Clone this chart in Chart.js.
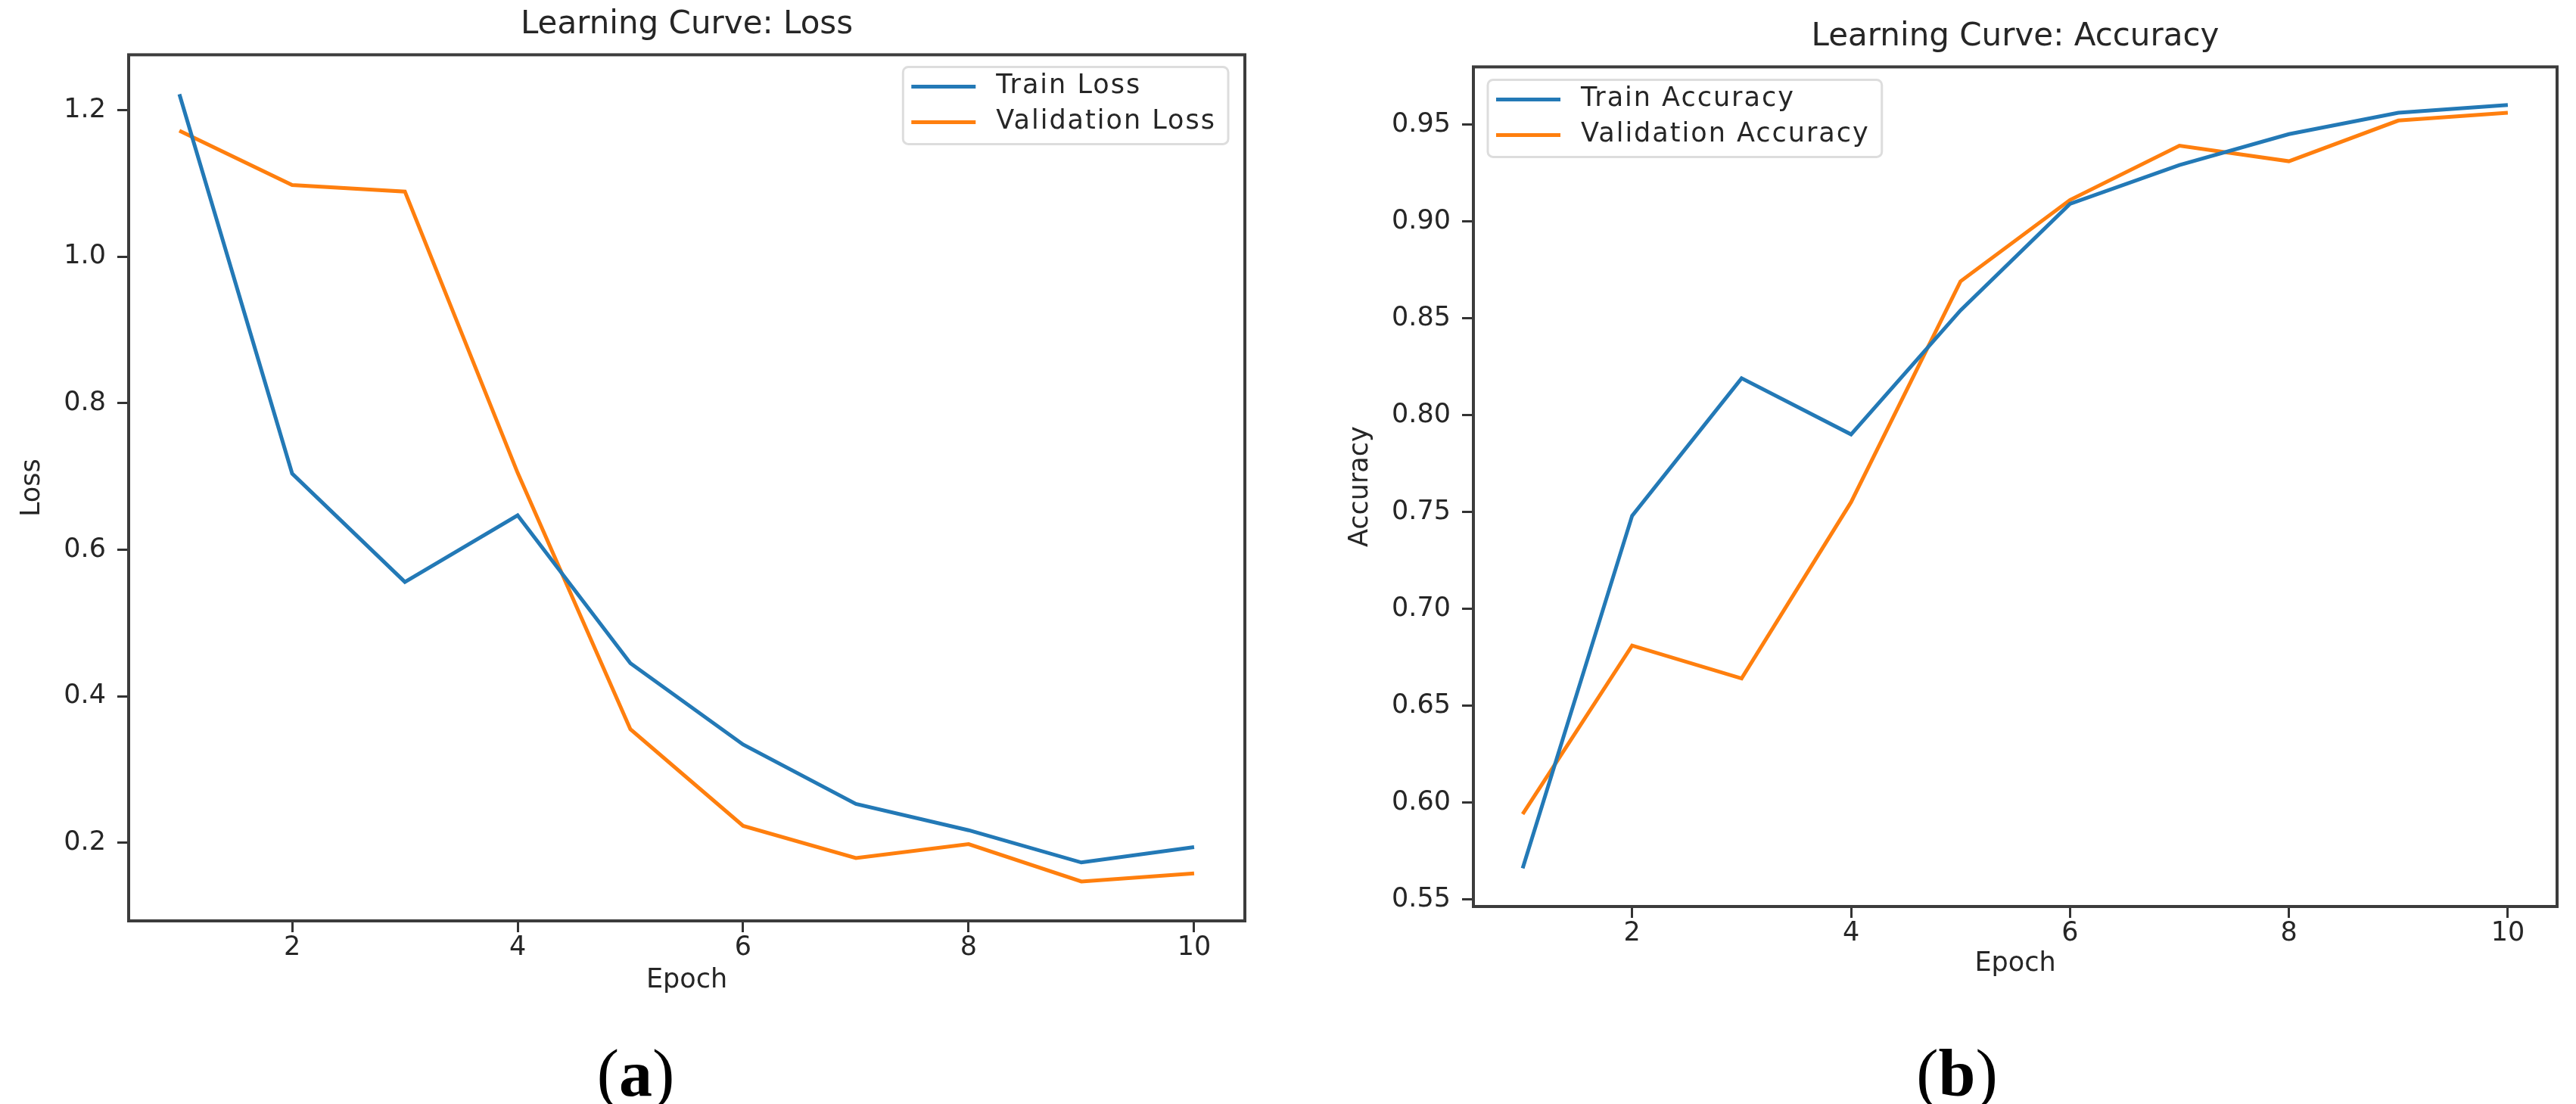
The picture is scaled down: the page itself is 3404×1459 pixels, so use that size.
<!DOCTYPE html>
<html><head><meta charset="utf-8">
<script src="https://cdn.jsdelivr.net/npm/chart.js@4.4.0/dist/chart.umd.min.js"></script>
<style>
html,body{margin:0;padding:0;background:#fff;width:3404px;height:1459px;overflow:hidden}
.wrap{position:absolute;top:0;width:1702px;height:1459px}
.cap{position:absolute;top:1375px;font-family:"Liberation Serif","DejaVu Serif",serif;font-size:88px;line-height:88px;color:#000;transform:translateX(-50%);white-space:nowrap}
</style></head><body>
<div class="wrap" style="left:0"><canvas id="c1" width="1702" height="1459"></canvas></div>
<div class="wrap" style="left:1702px"><canvas id="c2" width="1702" height="1459"></canvas></div>
<div class="cap" style="left:840px">(<b>a</b>)</div>
<div class="cap" style="left:2586px">(<b>b</b>)</div>
<script>
// ---- data ----
const epochs = [1, 2, 3, 4, 5, 6, 7, 8, 9, 10];
const trainLoss = [1.222, 0.704, 0.556, 0.647, 0.445, 0.334, 0.253, 0.217, 0.173, 0.194];
const valLoss   = [1.172, 1.098, 1.089, 0.705, 0.355, 0.223, 0.179, 0.198, 0.147, 0.158];
const trainAcc  = [0.566, 0.748, 0.819, 0.790, 0.854, 0.909, 0.929, 0.945, 0.956, 0.960];
const valAcc    = [0.594, 0.681, 0.664, 0.755, 0.869, 0.911, 0.939, 0.931, 0.952, 0.956];
const epochTicks = [2, 4, 6, 8, 10];
const lossTicks = [0.2, 0.4, 0.6, 0.8, 1.0, 1.2];
const accTicks = [0.55, 0.60, 0.65, 0.70, 0.75, 0.80, 0.85, 0.90, 0.95];
const lossLabels = ['Train Loss', 'Validation Loss'];
const accLabels = ['Train Accuracy', 'Validation Accuracy'];
const titles = ['Learning Curve: Loss', 'Learning Curve: Accuracy'];
const yTitles = ['Loss', 'Accuracy'];
const xTitle = 'Epoch';

const BLUE = '#2379b6', ORANGE = '#ff7f0e', TXT = '#262626';
const FONT = '"DejaVu Sans", sans-serif';

function autoRange(arrs){
  const all = [].concat(...arrs);
  const mn = Math.min(...all), mx = Math.max(...all), m = (mx - mn) * 0.05;
  return [mn - m, mx + m];
}

const framePlugin = {
  id: 'frame',
  afterDraw(chart){
    const a = chart.chartArea, ctx = chart.ctx;
    ctx.save();
    ctx.strokeStyle = '#3c3c3c'; ctx.lineWidth = 4;
    ctx.strokeRect(a.left, a.top, a.right - a.left, a.bottom - a.top);
    ctx.restore();
  }
};
const legendPlugin = {
  id: 'boxLegend',
  afterDraw(chart, args, o){
    const ctx = chart.ctx, a = chart.chartArea, ds = chart.data.datasets;
    ctx.save();
    ctx.font = '35px ' + FONT;
    ctx.letterSpacing = '2px';
    const tw = Math.max(...ds.map(d => ctx.measureText(d.label).width));
    const w = 11 + 85 + 27 + tw + 16, h = 102;
    const x = o.side === 'right' ? a.right - o.dx - w : a.left + o.dx;
    const y = a.top + o.dy;
    ctx.beginPath();
    ctx.roundRect(x, y, w, h, 7);
    ctx.fillStyle = 'rgba(255,255,255,0.85)'; ctx.fill();
    ctx.strokeStyle = '#dddddd'; ctx.lineWidth = 3; ctx.stroke();
    ds.forEach((d, i) => {
      const cy = y + 26 + i * 47;
      ctx.beginPath();
      ctx.strokeStyle = d.borderColor; ctx.lineWidth = d.borderWidth;
      ctx.moveTo(x + 11, cy); ctx.lineTo(x + 96, cy); ctx.stroke();
      ctx.fillStyle = TXT; ctx.textBaseline = 'middle'; ctx.textAlign = 'left';
      ctx.fillText(d.label, x + 123, cy);
    });
    ctx.restore();
  }
};

function makeChart(id, cfg){
  const xr = autoRange([epochs]);
  const yr = autoRange(cfg.series);
  return new Chart(document.getElementById(id), {
    type: 'line',
    data: {
      datasets: cfg.series.map((s, i) => ({
        label: cfg.labels[i],
        data: epochs.map((e, j) => ({x: e, y: s[j]})),
        borderColor: i === 0 ? BLUE : ORANGE,
        backgroundColor: i === 0 ? BLUE : ORANGE,
        borderWidth: 5, pointRadius: 0, tension: 0, fill: false
      }))
    },
    options: {
      responsive: false, animation: false, devicePixelRatio: 1,
      layout: {padding: {left: 0, top: 0, right: cfg.padR, bottom: cfg.padB}},
      plugins: {
        legend: {display: false}, tooltip: {enabled: false},
        title: {display: true, text: cfg.title, fullSize: false, color: TXT,
          font: {family: FONT, size: 42, weight: 'normal'},
          padding: {top: cfg.titleTop, bottom: cfg.titleBottom}},
        boxLegend: cfg.legend
      },
      scales: {
        x: {
          type: 'linear', min: xr[0], max: xr[1],
          afterBuildTicks: s => { s.ticks = epochTicks.map(v => ({value: v})); },
          afterFit: s => { s.height = 120; },
          border: {display: false},
          grid: {drawOnChartArea: false, drawTicks: true, tickLength: 15, tickWidth: 3, tickColor: '#333'},
          ticks: {color: TXT, font: {family: FONT, size: 35}, padding: 0, maxRotation: 0, autoSkip: false,
            callback: v => String(v)},
          title: {display: true, text: xTitle, color: TXT, font: {family: FONT, size: 35},
            padding: {top: 0, bottom: cfg.xTitleB}}
        },
        y: {
          type: 'linear', min: yr[0], max: yr[1],
          afterBuildTicks: s => { s.ticks = cfg.yTicks.map(v => ({value: v})); },
          afterFit: s => { s.width = cfg.yW; },
          border: {display: false},
          grid: {drawOnChartArea: false, drawTicks: true, tickLength: 15, tickWidth: 3, tickColor: '#333'},
          ticks: {color: TXT, font: {family: FONT, size: 35}, padding: 15, autoSkip: false,
            callback: v => v.toFixed(cfg.dec)},
          title: {display: true, text: cfg.yTitle, color: TXT, font: {family: FONT, size: 35},
            padding: {top: cfg.yTitleT, bottom: 0}}
        }
      }
    },
    plugins: [framePlugin, legendPlugin]
  });
}

makeChart('c1', {
  series: [trainLoss, valLoss], labels: lossLabels, title: titles[0], yTitle: yTitles[0],
  yTicks: lossTicks, dec: 1, padR: 57, padB: 122, titleTop: 8, titleBottom: 14,
  xTitleB: 20, yW: 170, yTitleT: 22, legend: {side: 'right', dx: 22, dy: 16}
});
makeChart('c2', {
  series: [trainAcc, valAcc], labels: accLabels, title: titles[1], yTitle: yTitles[1],
  yTicks: accTicks, dec: 2, padR: 25, padB: 141, titleTop: 24, titleBottom: 14,
  xTitleB: 23, yW: 245, yTitleT: 75, legend: {side: 'left', dx: 19, dy: 17}
});
</script>
</body></html>
